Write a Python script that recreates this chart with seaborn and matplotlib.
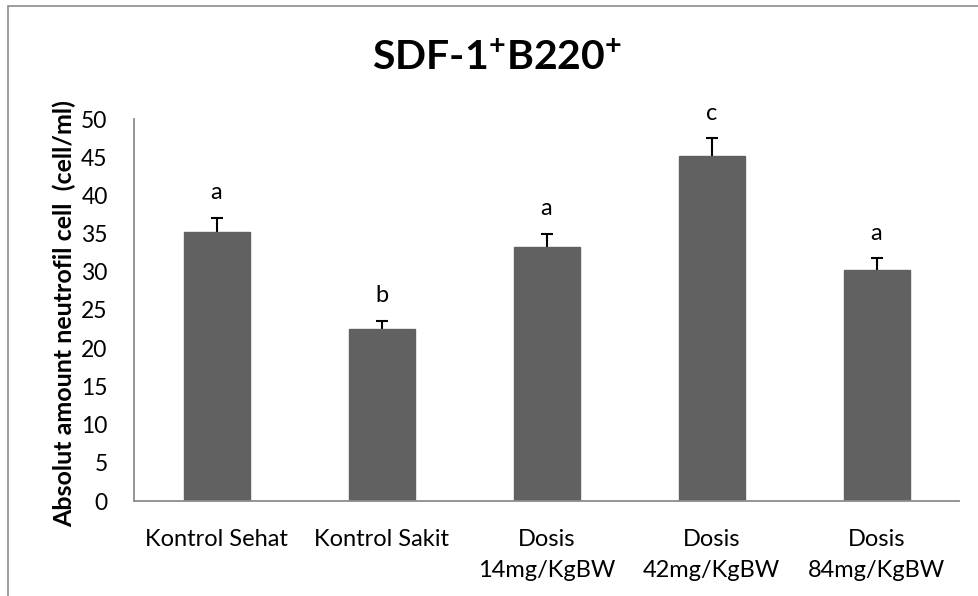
import matplotlib
matplotlib.use("Agg")
import matplotlib.pyplot as plt
import seaborn as sns
import numpy as np
from matplotlib.patches import Rectangle

categories = ["Kontrol Sehat", "Kontrol Sakit", "Dosis\n14mg/KgBW", "Dosis\n42mg/KgBW", "Dosis\n84mg/KgBW"]
values = [35.25, 22.5, 33.3, 45.2, 30.3]
errors = [1.8, 1.1, 1.65, 2.3, 1.5]
letters = ["a", "b", "a", "c", "a"]
yticks = [0, 5, 10, 15, 20, 25, 30, 35, 40, 45, 50]

sns.set_theme(style="white")
plt.rcParams['font.family'] = ['Lato', 'DejaVu Sans']
plt.rcParams['mathtext.fontset'] = 'custom'
plt.rcParams['mathtext.rm'] = 'Lato'
plt.rcParams['mathtext.bf'] = 'Lato:bold'

fig = plt.figure(figsize=(9.79, 5.96), dpi=100)
ax = fig.add_axes([134/979, 1-501/596, (959-134)/979, (501-119)/596])

bar_color = "#616161"
sns.barplot(x=categories, y=values, color=bar_color, width=0.4, errorbar=None,
            saturation=1, ax=ax, edgecolor=bar_color, zorder=2)
xs = np.arange(len(categories))
ax.errorbar(xs, values, yerr=errors, fmt='none',
            ecolor='black', elinewidth=1.5, capsize=4, capthick=1.5, zorder=1)
for x, v, e, l in zip(xs, values, errors, letters):
    ax.annotate(l, (x, v + e), xytext=(0, 18), textcoords='offset points',
                ha='center', va='center', fontsize=17, color='black')

ax.set_xlim(-0.5, 4.5)
ax.set_ylim(0, 50)
ax.set_yticks(yticks)
ax.set_yticklabels([str(t) for t in yticks], fontsize=16.5, color='black')
ax.tick_params(axis='y', length=0, pad=19)
ax.tick_params(axis='x', length=0, pad=20, labelsize=17, labelcolor='black')
for lab in ax.get_xticklabels():
    lab.set_linespacing(1.6)

for s in ['top', 'right']:
    ax.spines[s].set_visible(False)
for s in ['left', 'bottom']:
    ax.spines[s].set_color('#8c8c8c')
    ax.spines[s].set_linewidth(1.3)
    ax.spines[s].set_zorder(3)

ax.set_xlabel("")
ax.set_ylabel("Absolut amount neutrofil cell  (cell/ml)", fontsize=18, fontweight='bold',
              color='black')
ax.yaxis.set_label_coords(-(134-76)/825, (501-314)/382)

fig.text(497/979, 1-59/596, r"SDF-1$^{\mathbf{+}}$B220$^{\mathbf{+}}$", ha='center', va='center',
         fontsize=29.5, fontweight='bold', color='black')

fig.patches.append(Rectangle((8/979, -0.1), 1.2, 1.1 - 6/596, transform=fig.transFigure,
                             fill=False, edgecolor='#8c8c8c', linewidth=1.2))

fig.savefig("out.png", dpi=100, facecolor='white')
